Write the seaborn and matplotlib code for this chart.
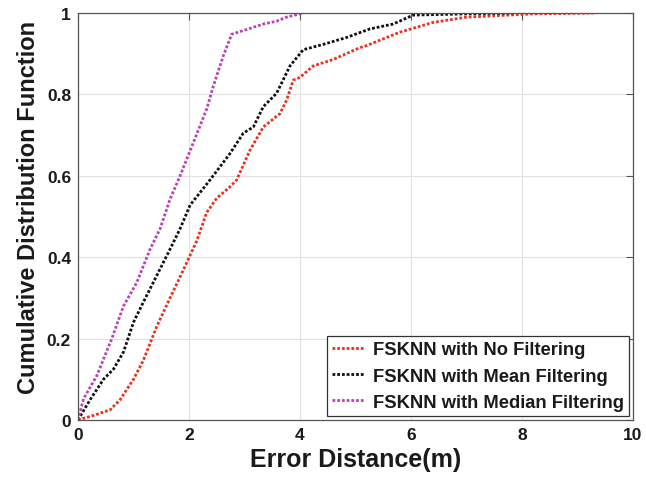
import numpy as np
import pandas as pd
import seaborn as sns
from matplotlib import pyplot as plt

# error distance (m) / CDF
no_filt_x = [0, 0.3, 0.58, 0.76, 1.0, 1.18, 1.42, 1.66, 1.90, 2.14, 2.32, 2.5, 2.74, 2.86, 3.10, 3.34,
             3.64, 3.76, 3.88, 4.0, 4.24, 4.6, 5.08, 5.2, 5.8, 6.4, 7.0, 8.2, 9.29]
no_filt_y = [0, 0.012, 0.025, 0.05, 0.10, 0.147, 0.23, 0.30, 0.369, 0.44, 0.51, 0.545, 0.573, 0.59, 0.663, 0.72,
             0.753, 0.786, 0.835, 0.842, 0.87, 0.886, 0.915, 0.92, 0.953, 0.977, 0.99, 0.998, 1.0]

mean_x = [0, 0.22, 0.46, 0.64, 0.82, 1.0, 1.18, 1.42, 1.66, 1.84, 2.02, 2.38, 2.74, 2.98, 3.16, 3.34,
          3.58, 3.82, 4.06, 4.42, 4.84, 5.26, 5.68, 6.04, 7.0, 7.84]
mean_y = [0, 0.05, 0.10, 0.125, 0.167, 0.24, 0.29, 0.355, 0.42, 0.47, 0.528, 0.59, 0.655, 0.705, 0.72, 0.77,
          0.803, 0.87, 0.91, 0.923, 0.94, 0.961, 0.973, 0.995, 0.998, 1.0]

median_x = [0, 0.1, 0.34, 0.61, 0.82, 1.06, 1.30, 1.48, 1.66, 1.84, 2.08, 2.32, 2.44, 2.62, 2.77, 2.98,
            3.34, 3.58, 3.76, 4.06]
median_y = [0, 0.052, 0.109, 0.2, 0.28, 0.338, 0.42, 0.47, 0.543, 0.60, 0.682, 0.764, 0.821, 0.895, 0.948, 0.957,
            0.973, 0.98, 0.99, 1.0]

labels = ['FSKNN with No Filtering', 'FSKNN with Mean Filtering', 'FSKNN with Median Filtering']
colors = ['#e63324', '#111111', '#b845b0']

sns.set_style('whitegrid')
plt.rcParams['font.family'] = ['Liberation Sans', 'DejaVu Sans']
plt.rcParams['font.weight'] = 'bold'
plt.rcParams['axes.labelweight'] = 'bold'
plt.rcParams['text.color'] = '#1a1a1a'
plt.rcParams['axes.labelcolor'] = '#1a1a1a'

fig = plt.figure(figsize=(6.46, 4.85), dpi=100)
ax = fig.add_axes([0.1207, 0.132, 0.859, 0.839])

for xs, ys, lab, col in zip([no_filt_x, mean_x, median_x], [no_filt_y, mean_y, median_y], labels, colors):
    df = pd.DataFrame({'x': xs, 'y': ys})
    sns.lineplot(data=df, x='x', y='y', ax=ax, color=col, label=lab, sort=False,
                 estimator=None, linewidth=2.0, linestyle=(0, (1, 0.7)))

ax.set_xlim(0, 10)
ax.set_ylim(0, 1)
ax.set_xticks([0, 2, 4, 6, 8, 10])
ax.set_yticks([0, 0.2, 0.4, 0.6, 0.8, 1])
ax.set_yticklabels(['0', '0.2', '0.4', '0.6', '0.8', '1'])
ax.set_xlabel('Error Distance(m)', fontsize=18)
ax.set_ylabel('Cumulative Distribution Function', fontsize=17)
ax.yaxis.set_label_coords(-0.068, 0.525)
ax.tick_params(labelsize=12.5, direction='in', length=5, top=True, right=True, color='#555555',
               labelcolor='#1a1a1a', pad=5)
ax.grid(True, color='#e0e0e0', linewidth=0.8)
for s in ax.spines.values():
    s.set_color('#555555')
    s.set_linewidth(0.9)

leg = ax.legend(loc='lower right', fontsize=13.2, handlelength=1.8, borderaxespad=0.2,
                frameon=True, fancybox=False, edgecolor='#333333', framealpha=1,
                borderpad=0.3, labelspacing=0.5, handletextpad=0.4)
leg.get_frame().set_linewidth(0.9)

plt.savefig('out.png', dpi=100)
